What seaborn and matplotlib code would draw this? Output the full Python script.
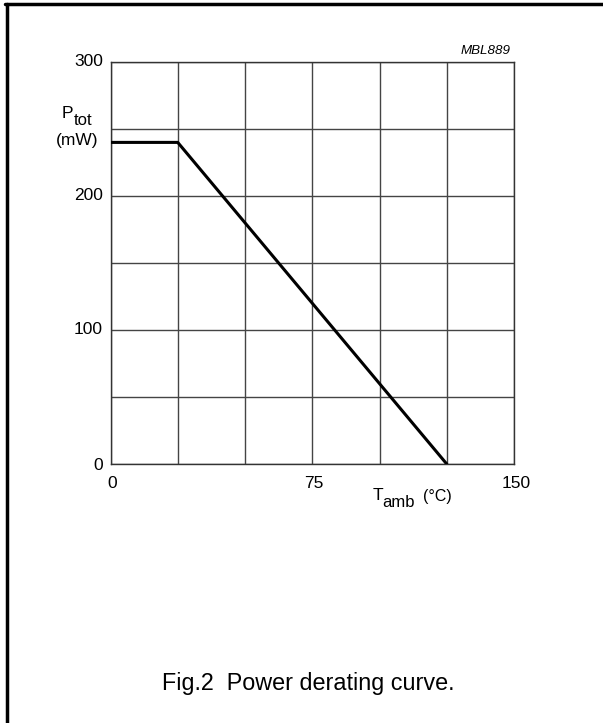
import matplotlib
matplotlib.use("Agg")
import matplotlib.pyplot as plt
import seaborn as sns
import pandas as pd
from matplotlib.lines import Line2D

# data
t_amb = [0, 25, 125]
p_tot = [240, 240, 0]
x_ticks = [0, 75, 150]
y_ticks = [0, 100, 200, 300]

sns.set_style("white")
plt.rcParams['font.family'] = ['Liberation Sans', 'DejaVu Sans']
plt.rcParams['text.color'] = 'black'

W, H = 603, 723
fig = plt.figure(figsize=(W / 100, H / 100), dpi=100)
L, R, T, B = 110.5, 514, 62, 464
ax = fig.add_axes([L / W, 1 - B / H, (R - L) / W, (B - T) / H])

df = pd.DataFrame({"T": t_amb, "P": p_tot})
sns.lineplot(data=df, x="T", y="P", ax=ax, color="black", linewidth=2.2, zorder=5)

ax.set_xlim(0, 150)
ax.set_ylim(0, 300)
ax.set_xticks(range(0, 151, 25))
ax.set_yticks(range(0, 301, 50))
ax.grid(True, color="#444444", linewidth=1.0)
for s in ax.spines.values():
    s.set_color("#333333")
    s.set_linewidth(1.0)
ax.tick_params(length=0, labelbottom=False, labelleft=False)
ax.set_xlabel("")
ax.set_ylabel("")

fs = 12.5
def px(x, y):
    return x / W, 1 - y / H

for v in y_ticks:
    y = B - (B - T) * v / 300
    fig.text(*px(103, y + (1 if v == 0 else 0)), str(v), ha="right", va="center", fontsize=fs)
for v in x_ticks:
    x = L + (R - L) * v / 150
    fig.text(*px(x + 2, 483), str(v), ha="center", va="center", fontsize=fs)

# y label
fig.text(*px(62, 118), "P", ha="left", va="baseline", fontsize=fs)
fig.text(*px(74, 125), "tot", ha="left", va="baseline", fontsize=12)
fig.text(*px(77, 140), "(mW)", ha="center", va="center", fontsize=fs)
# x label
fig.text(*px(373, 500), "T", ha="left", va="baseline", fontsize=fs)
fig.text(*px(382, 507), "amb", ha="left", va="baseline", fontsize=12)
fig.text(*px(452, 501), "(\u00b0C)", ha="right", va="baseline", fontsize=11.5)

fig.text(*px(511, 51), "MBL889", ha="right", va="center", fontsize=9.6, style="italic")
fig.text(*px(308, 690), "Fig.2  Power derating curve.", ha="center", va="baseline", fontsize=16.8)

# border (left and top)
fig.add_artist(Line2D([6.5 / W, 6.5 / W], [0, 1 - 4 / H], color="black", linewidth=2.5,
                      transform=fig.transFigure))
fig.add_artist(Line2D([5 / W, 1], [1 - 4 / H, 1 - 4 / H], color="black", linewidth=2.5,
                      transform=fig.transFigure))

fig.savefig("out.png", dpi=100)
